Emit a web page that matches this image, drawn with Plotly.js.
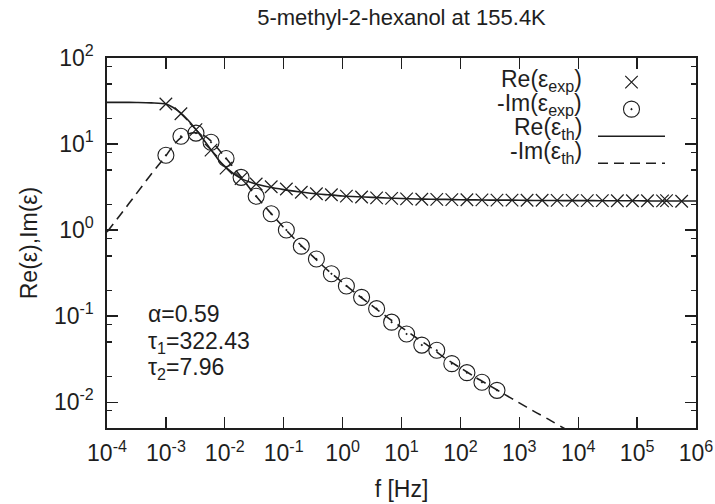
<!DOCTYPE html>
<html>
<head>
<meta charset="utf-8">
<script src="https://cdn.plot.ly/plotly-3.0.1.min.js"></script>
<style>html,body{margin:0;padding:0;background:#fff;}#chart{width:715px;height:504px;}</style>
</head>
<body>
<div id="chart"></div>
<script>
// measured frequencies [Hz]
const freq = [0.001, 0.0018, 0.00324, 0.00584, 0.0105, 0.0189, 0.0341, 0.0614, 0.111, 0.199,
  0.359, 0.646, 1.16, 2.10, 3.78, 6.80, 12.2, 22.1, 39.7, 71.5,
  129, 232, 418, 752, 1355, 2440, 4395, 7915, 14260, 25680,
  46240, 83290, 150000, 270200, 316000, 571000];
// Re(eps_exp)
const reExp = [29.2, 22.5, 14.7, 8.5, 5.25, 3.96, 3.43, 3.19, 3.0, 2.75,
  2.64, 2.57, 2.48, 2.42, 2.37, 2.33, 2.30, 2.28, 2.27, 2.26,
  2.25, 2.24, 2.23, 2.23, 2.22, 2.22, 2.21, 2.21, 2.20, 2.20,
  2.19, 2.19, 2.19, 2.18, 2.20, 2.16];
// -Im(eps_exp) (first values of freq)
const imExp = [7.4, 12.3, 13.4, 10.5, 6.8, 4.1, 2.47, 1.55, 1.0, 0.65,
  0.46, 0.31, 0.224, 0.165, 0.122, 0.085, 0.062, 0.046, 0.040, 0.028,
  0.022, 0.017, 0.0137];
// fitted curves
const fTh = [1e-4, 1.78e-4, 3.16e-4, 5.62e-4, 1e-3, 1.33e-3, 1.78e-3, 2.37e-3, 3.16e-3, 4.22e-3,
  5.62e-3, 7.5e-3, 0.01, 0.0178, 0.0316, 0.0562, 0.1, 0.178, 0.316, 0.562,
  1, 1.78, 3.16, 5.62, 10, 17.8, 31.6, 56.2, 100, 178,
  316, 562, 1000, 1780, 3160, 5620, 1e4, 1.78e4, 3.16e4, 5.62e4,
  1e5, 1.78e5, 3.16e5, 5.62e5, 1e6];
const reTh = [30.5, 30.5, 30.4, 30.1, 29.2, 26.6, 23.0, 19.0, 15.1, 11.6,
  8.9, 6.8, 5.5, 4.07, 3.47, 3.16, 2.95, 2.79, 2.66, 2.57,
  2.49, 2.44, 2.40, 2.36, 2.33, 2.30, 2.28, 2.27, 2.25, 2.24,
  2.23, 2.23, 2.22, 2.21, 2.21, 2.20, 2.20, 2.20, 2.19, 2.19,
  2.19, 2.18, 2.18, 2.18, 2.18];
const imTh = [0.95, 1.58, 2.65, 4.45, 7.3, 9.6, 11.8, 13.1, 13.5, 12.8,
  11.1, 9.0, 7.1, 4.37, 2.63, 1.66, 1.07, 0.71, 0.49, 0.34,
  0.245, 0.178, 0.132, 0.098, 0.074, 0.056, 0.043, 0.032, 0.025, 0.0195,
  0.0155, 0.0123, 0.0098, 0.0078, 0.0063, 0.0050, 0.0040, 0.0032, 0.0026, 0.0021,
  0.0017, 0.0014, 0.0011, 0.0009, 0.0007];

const xTickVals = [1e-4, 1e-3, 1e-2, 1e-1, 1, 10, 100, 1e3, 1e4, 1e5, 1e6];
const xTickText = ['10<sup>-4</sup>', '10<sup>-3</sup>', '10<sup>-2</sup>', '10<sup>-1</sup>', '10<sup>0</sup>',
  '10<sup>1</sup>', '10<sup>2</sup>', '10<sup>3</sup>', '10<sup>4</sup>', '10<sup>5</sup>', '10<sup>6</sup>'];
const yTickVals = [0.01, 0.1, 1, 10, 100];
const yTickText = ['10<sup>-2</sup>', '10<sup>-1</sup>', '10<sup>0</sup>', '10<sup>1</sup>', '10<sup>2</sup>'];
const yMinorVals = [0.008, 0.02, 0.05, 0.08, 0.2, 0.5, 0.8, 2, 5, 8, 20, 50, 80];
const legendLabels = ['Re(ε<sub>exp</sub>)', '-Im(ε<sub>exp</sub>)', 'Re(ε<sub>th</sub>)', '-Im(ε<sub>th</sub>)'];
const fitParams = ['α=0.59', 'τ<sub>1</sub>=322.43', 'τ<sub>2</sub>=7.96'];

const ink = '#1e1e1e';
const FONT = 'Liberation Sans, Arial, Helvetica, sans-serif';
const FS = 23;

const traces = [
  {x: freq, y: reExp, mode: 'markers', name: ' ', type: 'scatter',
   marker: {symbol: 'x-thin-open', size: 12.5, color: ink, line: {color: ink, width: 1.2}}},
  {x: freq.slice(0, imExp.length), y: imExp, mode: 'markers', name: ' ', type: 'scatter',
   marker: {symbol: 'circle-open-dot', size: 16, color: ink, line: {color: ink, width: 1.1}}},
  {x: fTh, y: reTh, mode: 'lines', name: ' ', type: 'scatter',
   line: {color: ink, width: 1.6, shape: 'spline', smoothing: 0.8}},
  {x: fTh, y: imTh, mode: 'lines', name: ' ', type: 'scatter',
   line: {color: ink, width: 1.6, dash: '10px,6px', shape: 'spline', smoothing: 0.8}}
];

const axisCommon = {
  type: 'log', showgrid: false, zeroline: false, showline: true, linecolor: ink, linewidth: 1.6,
  mirror: 'ticks', ticks: 'inside', ticklen: 11, tickwidth: 1.2, tickcolor: ink,
  tickmode: 'array', tickfont: {family: FONT, size: FS, color: ink}
};

const ann = [];
legendLabels.forEach((t, i) => {
  const py = [80, 104, 128, 152][i];
  ann.push({xref: 'paper', yref: 'paper', x: (584 - 107) / 589, y: 1 - (py - 57.7) / 370.3,
    xanchor: 'right', yanchor: 'middle', showarrow: false, text: t,
    font: {family: FONT, size: FS, color: ink}});
});
fitParams.forEach((t, i) => {
  const py = [314, 342, 368][i];
  ann.push({xref: 'paper', yref: 'paper', x: (146 - 107) / 589, y: 1 - (py - 57.7) / 370.3,
    xanchor: 'left', yanchor: 'middle', showarrow: false, text: t,
    font: {family: FONT, size: FS, color: ink}});
});

const layout = {
  width: 715, height: 504,
  margin: {l: 107, r: 19, t: 58, b: 76, pad: 0},
  paper_bgcolor: '#fff', plot_bgcolor: '#fff',
  font: {family: FONT, size: FS, color: ink},
  title: {text: '5-methyl-2-hexanol at 155.4K', xref: 'paper', x: 0.5, xanchor: 'center',
    yref: 'container', y: 1 - 17 / 504, yanchor: 'middle', font: {family: FONT, size: 22, color: ink}},
  xaxis: Object.assign({}, axisCommon, {
    range: [-4, 6], tickvals: xTickVals, ticktext: xTickText, ticklabelstandoff: 4,
    title: {text: 'f [Hz]', standoff: 15, font: {family: FONT, size: FS, color: ink}}
  }),
  yaxis: Object.assign({}, axisCommon, {
    range: [Math.log10(0.005), 2], tickvals: yTickVals, ticktext: yTickText, ticklabelstandoff: 7,
    minor: {tickmode: 'array', tickvals: yMinorVals, ticks: 'inside', ticklen: 5, tickwidth: 1.2, tickcolor: ink, showgrid: false},
    title: {text: 'Re(ε),Im(ε)', standoff: 10, font: {family: FONT, size: FS, color: ink}}
  }),
  showlegend: true,
  legend: {x: (593 - 107) / 589, y: 0.985, xanchor: 'left', yanchor: 'top', bgcolor: 'rgba(0,0,0,0)',
    font: {family: FONT, size: 18.5, color: ink}, tracegroupgap: 0, borderwidth: 0, itemwidth: 67},
  annotations: ann
};

Plotly.newPlot('chart', traces, layout, {displayModeBar: false, staticPlot: true});
</script>
</body>
</html>
